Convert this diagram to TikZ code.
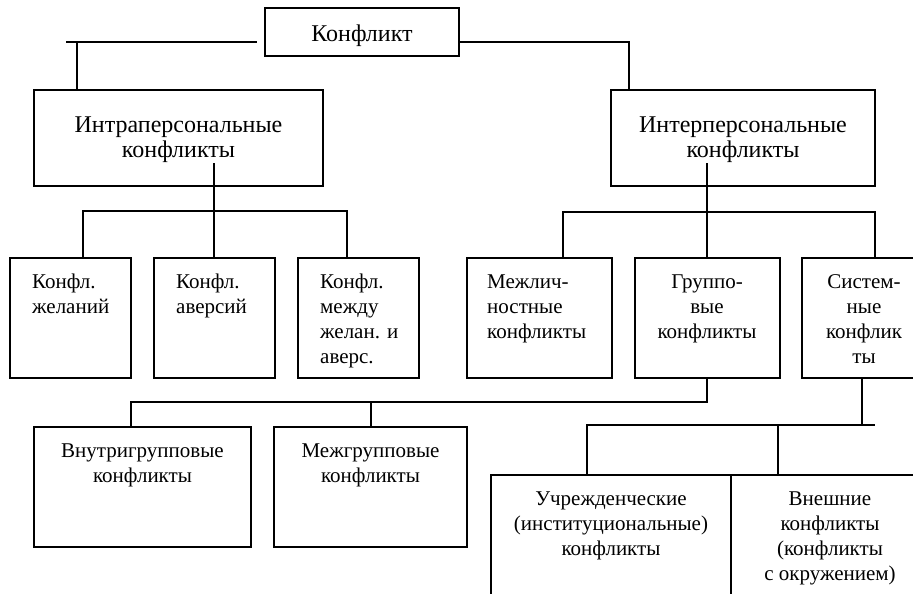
\documentclass[tikz,border=0pt]{standalone}
\usepackage{fontspec}
\setmainfont{Liberation Serif}
\begin{document}
\begin{tikzpicture}[x=1pt,y=-1pt,
  box/.style={draw, line width=1.1pt, inner sep=0pt, outer sep=0pt},
  conn/.style={line width=1.1pt},
  txt/.style={inner sep=0pt, font=\fontsize{21}{25.3}\selectfont},
  bigtxt/.style={inner sep=0pt, font=\fontsize{24}{25.3}\selectfont},
  lt/.style={txt, align=left, anchor=base west},
  ct/.style={txt, align=center, anchor=base},
  bt/.style={bigtxt, align=center, anchor=base}]
\useasboundingbox (0,0) rectangle (913,594);
\clip (0,0) rectangle (913,594);
\fill[white] (0,0) rectangle (913,594);
% boxes
\node[box, minimum width=194, minimum height=48] (konf) at (362,32) {};
\node[box, minimum width=289, minimum height=96] (intra) at (178.5,138) {};
\node[box, minimum width=264, minimum height=96] (inter) at (743,138) {};
\node[box, minimum width=121, minimum height=120] (k1) at (70.5,318) {};
\node[box, minimum width=121, minimum height=120] (k2) at (214.5,318) {};
\node[box, minimum width=121, minimum height=120] (k3) at (358.5,318) {};
\node[box, minimum width=145, minimum height=120] (mez) at (539.5,318) {};
\node[box, minimum width=145, minimum height=120] (grp) at (707.5,318) {};
\node[box, minimum width=148, minimum height=120] (sys) at (876,318) {};
\node[box, minimum width=217, minimum height=120] (vnutr) at (142.5,487) {};
\node[box, minimum width=193, minimum height=120] (mezgr) at (370.5,487) {};
\node[box, minimum width=240, minimum height=135] (uchr) at (611,542.5) {};
\node[box, minimum width=219, minimum height=135] (vnesh) at (840.5,542.5) {};
% texts (anchor = baseline of the last line)
\node[bt] (tkonf) at (362,41.7) {Конфликт};
\node[bt] (tintra) at (178.5,157.3) {Интраперсональные\\конфликты};
\node[bt] (tinter) at (743,157.3) {Интерперсональные\\конфликты};
\node[lt] (tk1) at (32,313.3) {Конфл.\\желаний};
\node[lt] (tk2) at (176,313.3) {Конфл.\\аверсий};
\node[lt] (tk3) at (320,363.9) {Конфл.\\между\\желан. и\\аверс.};
\node[lt] (tmez) at (487,338.6) {Межлич-\\ностные\\конфликты};
\node[ct] (tgrp) at (707,338.6) {Группо-\\вые\\конфликты};
\node[ct] (tsys) at (864,363.9) {Систем-\\ные\\конфлик\\ты};
\node[ct] (tvnutr) at (142.5,482.3) {Внутригрупповые\\конфликты};
\node[ct] (tmezgr) at (370.5,482.3) {Межгрупповые\\конфликты};
\node[ct] (tuchr) at (611,555.6) {Учрежденческие\\(институциональные)\\конфликты};
\node[ct] (tvnesh) at (830,580.9) {Внешние\\конфликты\\(конфликты\\с окружением)};
% junction coordinates
\coordinate (topL) at (66,42);
\coordinate (topLe) at (257,42);
\coordinate (topLd) at (77,42);
\coordinate (topR) at (629,42);
\coordinate (intraStem) at (214,163);
\coordinate (interStem) at (707,163);
\coordinate (bL1) at (83,211);
\coordinate (bR1) at (347,211);
\coordinate (bL2) at (563,212);
\coordinate (bR2) at (875,212);
\coordinate (bL3) at (131,402);
\coordinate (bM3) at (371,402);
\coordinate (bR3) at (707,402);
\coordinate (sysStem) at (862,425);
\coordinate (bL4) at (587,425);
\coordinate (bM4) at (778,425);
\coordinate (bR4) at (875,425);
% connectors
\draw[conn] (topL) -- (topLe);
\draw[conn] (topLd) -- (intra.north -| topLd);
\draw[conn] (konf.east |- topR) -- (topR) -- (inter.north -| topR);
\draw[conn] (intraStem) -- (k2.north -| intraStem);
\draw[conn] (k1.north -| bL1) -- (bL1) -- (bR1) -- (k3.north -| bR1);
\draw[conn] (interStem) -- (grp.north -| interStem);
\draw[conn] (mez.north -| bL2) -- (bL2) -- (bR2) -- (sys.north -| bR2);
\draw[conn] (grp.south -| bR3) -- (bR3) -- (bL3) -- (vnutr.north -| bL3);
\draw[conn] (bM3) -- (mezgr.north -| bM3);
\draw[conn] (sys.south -| sysStem) -- (sysStem);
\draw[conn] (uchr.north -| bL4) -- (bL4) -- (bR4);
\draw[conn] (bM4) -- (vnesh.north -| bM4);
\end{tikzpicture}
\end{document}
